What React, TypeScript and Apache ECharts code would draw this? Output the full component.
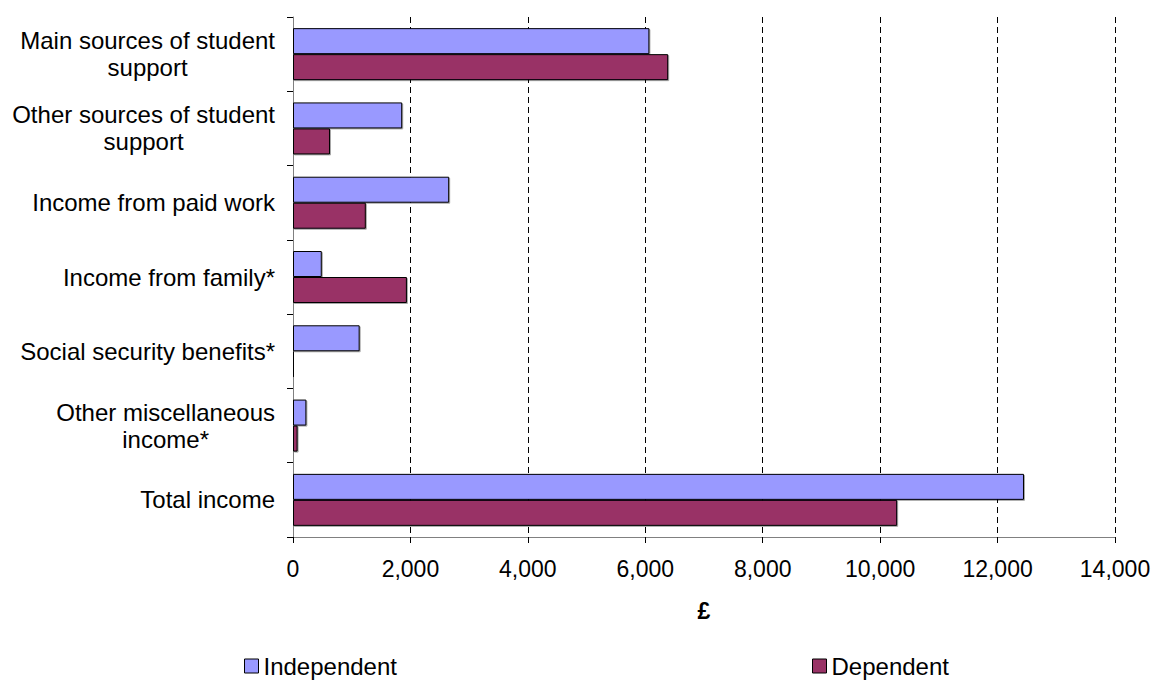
import React, { useEffect, useRef } from "react";
import * as echarts from "echarts";

const categories = [
  "Main sources of student\nsupport",
  "Other sources of student\nsupport",
  "Income from paid work",
  "Income from family*",
  "Social security benefits*",
  "Other miscellaneous\nincome*",
  "Total income",
];
const independent = [6070, 1860, 2660, 490, 1135, 228, 12450];
const dependent = [6390, 630, 1240, 1940, 20, 78, 10290];
const seriesNames = ["Independent", "Dependent"];
const xMin = 0;
const xMax = 14000;
const xInterval = 2000;
const xAxisTitle = "£";

const FONT = "'Liberation Sans', Arial, sans-serif";

export default function App() {
  const ref = useRef<HTMLDivElement>(null);
  useEffect(() => {
    if (!ref.current) return;
    const chart = echarts.init(ref.current, null, { renderer: "svg" });
    const barStyle = (color: string) => ({
      color,
      borderColor: "#000",
      borderWidth: 1,
      shadowColor: "rgba(0,0,0,0.35)",
      shadowOffsetX: 1,
      shadowOffsetY: 1,
      shadowBlur: 0,
    });
    const legendBase = {
      top: 654,
      padding: 0,
      itemWidth: 14,
      itemHeight: 14,
      icon: "rect",
      itemStyle: { borderColor: "#000", borderWidth: 1 },
      textStyle: { fontFamily: FONT, fontSize: 24, color: "#000", lineHeight: 24 },
    };
    chart.setOption({
      animation: false,
      backgroundColor: "#fff",
      textStyle: { fontFamily: FONT },
      grid: { left: 293, right: 39, top: 17, bottom: 143, containLabel: false },
      legend: [
        { ...legendBase, data: [seriesNames[0]], left: 244 },
        { ...legendBase, data: [seriesNames[1]], left: 812 },
      ],
      xAxis: {
        type: "value",
        min: xMin,
        max: xMax,
        interval: xInterval,
        name: xAxisTitle,
        nameLocation: "middle",
        nameGap: 62,
        nameTextStyle: { fontFamily: FONT, fontSize: 23, fontWeight: "bold", color: "#000" },
        axisLine: { show: true, lineStyle: { color: "#808080", width: 1 } },
        axisTick: { show: true, length: 6, lineStyle: { color: "#000" } },
        axisLabel: {
          margin: 20,
          fontFamily: FONT,
          fontSize: 23,
          color: "#000",
          formatter: (v: number) => v.toLocaleString("en-GB"),
        },
        splitLine: { show: true, lineStyle: { color: "#000", type: [6, 4], width: 1 } },
      },
      yAxis: {
        type: "category",
        data: categories,
        inverse: true,
        axisLine: { show: true, lineStyle: { color: "#808080", width: 1 } },
        axisTick: { show: true, length: 6, lineStyle: { color: "#000" } },
        axisLabel: {
          margin: 18,
          align: "right",
          fontFamily: FONT,
          fontSize: 24,
          color: "#000",
          lineHeight: 27,
          formatter: (v: string) =>
            v
              .split("\n")
              .map((l) => "{c|" + l + "}")
              .join("\n"),
          rich: {
            c: { align: "center", fontFamily: FONT, fontSize: 24, color: "#000", lineHeight: 27 },
          },
        },
        splitLine: { show: false },
      },
      series: [
        {
          name: seriesNames[0],
          type: "bar",
          data: independent,
          barWidth: 26,
          barGap: "0%",
          itemStyle: barStyle("#9999FF"),
        },
        {
          name: seriesNames[1],
          type: "bar",
          data: dependent,
          barWidth: 26,
          barGap: "0%",
          itemStyle: barStyle("#993366"),
        },
      ],
    });
    return () => chart.dispose();
  }, []);
  return (
    <div
      ref={ref}
      style={{ position: "fixed", left: 0, top: 0, width: 1154, height: 680 }}
    />
  );
}
